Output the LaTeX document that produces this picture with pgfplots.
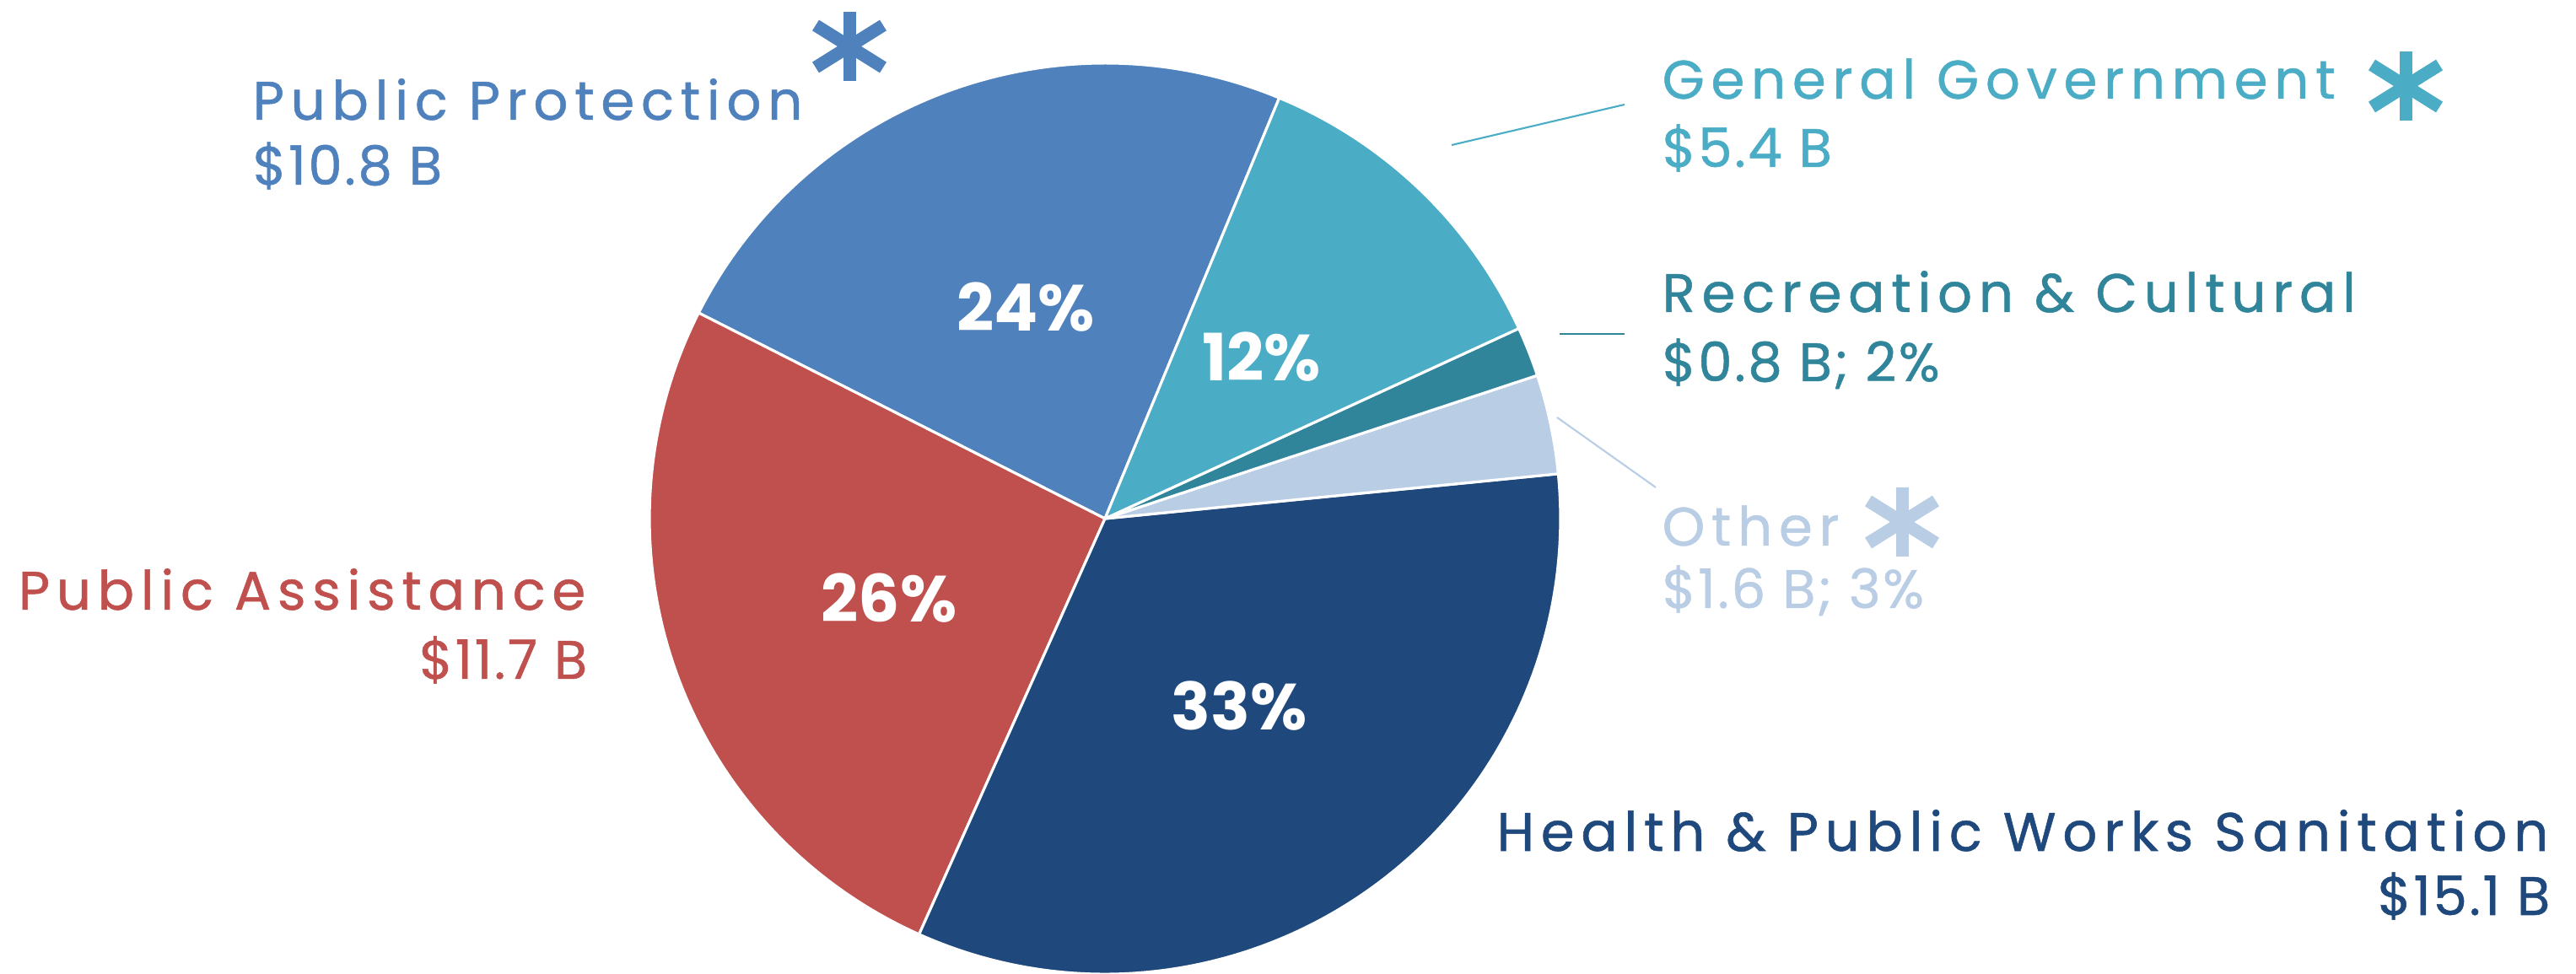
\documentclass[border=0pt]{standalone}
\usepackage{pgfplots}
\usepackage{pgfplotstable}
\pgfplotsset{compat=1.18}
\usepackage{fontspec}
\setmainfont{Poppins}
\newfontfamily\lblfont{Poppins}[LetterSpace=12, FakeBold=0.8]
\newfontfamily\numfont{Poppins}[LetterSpace=4, FakeBold=0.8]
\definecolor{cPP}{RGB}{79,129,189}
\definecolor{cPA}{RGB}{192,80,77}
\definecolor{cHPW}{RGB}{31,73,125}
\definecolor{cGG}{RGB}{75,172,198}
\definecolor{cRC}{RGB}{49,133,155}
\definecolor{cOT}{RGB}{185,205,229}

\pgfplotstableread{
key value color
PublicProtection 10.8 cPP
PublicAssistance 11.7 cPA
HealthPublicWorks 15.1 cHPW
Other 1.6 cOT
Recreation 0.8 cRC
GeneralGovernment 5.4 cGG
}\piedata

\newcommand\lbl[1]{\fontsize{18.3}{22}\lblfont #1}
\newcommand\amt[1]{\fontsize{18.3}{22}\numfont #1}
\newcommand\pct[1]{\fontsize{22}{26}\bfseries #1}
\newcommand\asterisk[3]{%
  \draw[#3, line width=0.15cm] (axis cs:#1,#2-41) -- (axis cs:#1,#2+41);
  \draw[#3, line width=0.15cm] (axis cs:#1-40,#2-25) -- (axis cs:#1+40,#2+25);
  \draw[#3, line width=0.15cm] (axis cs:#1-40,#2+25) -- (axis cs:#1+40,#2-25);
}

\begin{document}
\begin{tikzpicture}
\begin{axis}[
  scale only axis, width=30.54cm, height=11.55cm,
  xmin=0, xmax=3054, ymin=0, ymax=1155,
  hide axis, clip=false]
  \pgfmathsetmacro\total{0}
  \pgfplotsforeachungrouped \i in {0,...,5}{%
    \pgfplotstablegetelem{\i}{value}\of\piedata
    \pgfmathsetmacro\total{\total+\pgfplotsretval}%
  }
  \pgfmathsetmacro\startang{67.5}
  \pgfplotsforeachungrouped \i in {0,...,5}{%
    \pgfplotstablegetelem{\i}{value}\of\piedata \let\val=\pgfplotsretval
    \pgfplotstablegetelem{\i}{color}\of\piedata \let\col=\pgfplotsretval
    \pgfmathsetmacro\endang{\startang+\val*360/\total}%
    \edef\temp{\noexpand\fill[\col, draw=white, line width=0.9pt, line join=round]
      (axis cs:1310,540) -- ++(\startang:5.4cm)
      arc[start angle=\startang, end angle=\endang, radius=5.4cm] -- cycle;}%
    \temp
    \let\startang=\endang
  }
  % percentage labels
  \node[white] at (axis cs:1216,791) {\pct{24\%}};
  \node[white] at (axis cs:1496,732) {\pct{12\%}};
  \node[white] at (axis cs:1054,446) {\pct{26\%}};
  \node[white] at (axis cs:1469,318) {\pct{33\%}};
  % leader lines
  \draw[cGG, line width=0.6pt] (axis cs:1721,983) -- (axis cs:1926,1031);
  \draw[cRC, line width=0.6pt] (axis cs:1849,759) -- (axis cs:1926,759);
  \draw[cOT, line width=0.6pt] (axis cs:1846,660) -- (axis cs:1963,577);
  % category labels
  \node[cPP, anchor=base west, inner sep=0pt] at (axis cs:299,1013) {\lbl{Public Protection}};
  \node[cPP, anchor=base west, inner sep=0pt] at (axis cs:299,936) {\amt{\$10.8 B}};
  \node[cGG, anchor=base west, inner sep=0pt] at (axis cs:1970,1038) {\lbl{General Government}};
  \node[cGG, anchor=base west, inner sep=0pt] at (axis cs:1970,957) {\amt{\$5.4 B}};
  \node[cRC, anchor=base west, inner sep=0pt] at (axis cs:1970,785) {\lbl{Recreation \& Cultural}};
  \node[cRC, anchor=base west, inner sep=0pt] at (axis cs:1970,703) {\amt{\$0.8 B; 2\%}};
  \node[cOT, anchor=base west, inner sep=0pt] at (axis cs:1970,508) {\lbl{Other}};
  \node[cOT, anchor=base west, inner sep=0pt] at (axis cs:1970,434) {\amt{\$1.6 B; 3\%}};
  \node[cPA, anchor=base east, inner sep=0pt] at (axis cs:695,432) {\lbl{Public Assistance}};
  \node[cPA, anchor=base east, inner sep=0pt] at (axis cs:697,350) {\amt{\$11.7 B}};
  \node[cHPW, anchor=base east, inner sep=0pt] at (axis cs:3022,146) {\lbl{Health \& Public Works Sanitation}};
  \node[cHPW, anchor=base east, inner sep=0pt] at (axis cs:3024,70) {\amt{\$15.1 B}};
  % asterisks
  \asterisk{1007}{1100}{cPP}
  \asterisk{2852}{1053}{cGG}
  \asterisk{2255}{536}{cOT}
\end{axis}
\pgfresetboundingbox
\path[use as bounding box] (0,0) rectangle (30.54cm,11.55cm);
\end{tikzpicture}
\end{document}
